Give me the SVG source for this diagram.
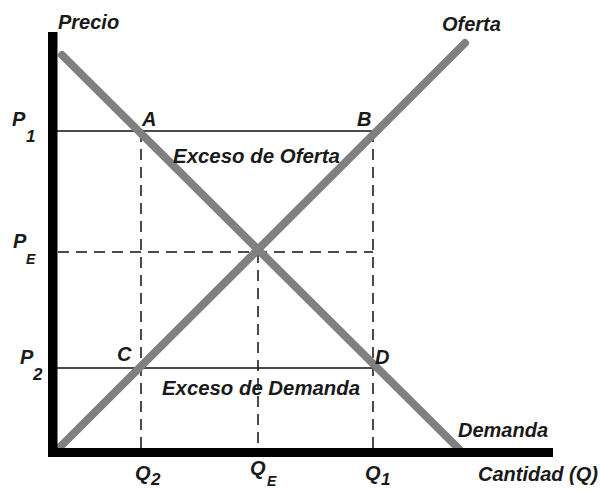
<svg xmlns="http://www.w3.org/2000/svg" width="602" height="490" viewBox="0 0 602 490">
<style>
text{font-family:"Liberation Sans",Arial,sans-serif;font-weight:bold;font-style:italic;fill:#1a1a1a;font-size:20px}
.sub{font-size:17px}
.subs{font-size:14px}
.thin{stroke:#111;stroke-width:1.5;fill:none}
.dash{stroke:#111;stroke-width:1.5;fill:none;stroke-dasharray:11 7}
.curve{stroke:#808080;stroke-width:8;stroke-linecap:round;fill:none}
</style>
<rect width="602" height="490" fill="#fff"/>
<g id="connectors">
<line class="thin" x1="57" y1="131" x2="372" y2="131"/>
<line class="thin" x1="57" y1="368" x2="374" y2="368"/>
<line class="dash" x1="58" y1="252" x2="373" y2="252"/>
<line class="dash" x1="141" y1="131" x2="141" y2="448"/>
<line class="dash" x1="373" y1="131" x2="373" y2="448"/>
<line class="dash" x1="258" y1="252" x2="258" y2="448"/>
</g>
<g id="demanda">
<line class="curve" x1="62" y1="55" x2="460" y2="450"/>
<text x="458" y="437">Demanda</text>
</g>
<g id="oferta">
<line class="curve" x1="60" y1="447" x2="465" y2="43"/>
<text x="442" y="31">Oferta</text>
</g>
<g id="axes">
<rect x="48" y="32" width="9.5" height="425" fill="#000"/>
<rect x="48" y="448" width="505" height="9" fill="#000"/>
<text x="58" y="29">Precio</text>
<text x="478" y="481" textLength="120" lengthAdjust="spacingAndGlyphs">Cantidad (Q)</text>
</g>
<g id="labels">
<text x="12" y="126">P</text><text class="sub" x="26" y="142">1</text>
<text x="13" y="248">P</text><text class="subs" x="26" y="264">E</text>
<text x="20" y="364">P</text><text class="sub" x="33" y="380">2</text>
<text x="135" y="480">Q</text><text class="sub" x="151" y="485">2</text>
<text x="250" y="475">Q</text><text class="subs" x="267" y="486">E</text>
<text x="365" y="480">Q</text><text class="sub" x="381" y="485">1</text>
</g>
<g id="points">
<text x="142" y="126">A</text>
<text x="357" y="126">B</text>
<text x="117" y="361">C</text>
<text x="375" y="364">D</text>
</g>
<g id="areas">
<text x="173" y="163" textLength="167" lengthAdjust="spacingAndGlyphs">Exceso de Oferta</text>
<text x="162" y="395" textLength="198" lengthAdjust="spacingAndGlyphs">Exceso de Demanda</text>
</g>
</svg>
